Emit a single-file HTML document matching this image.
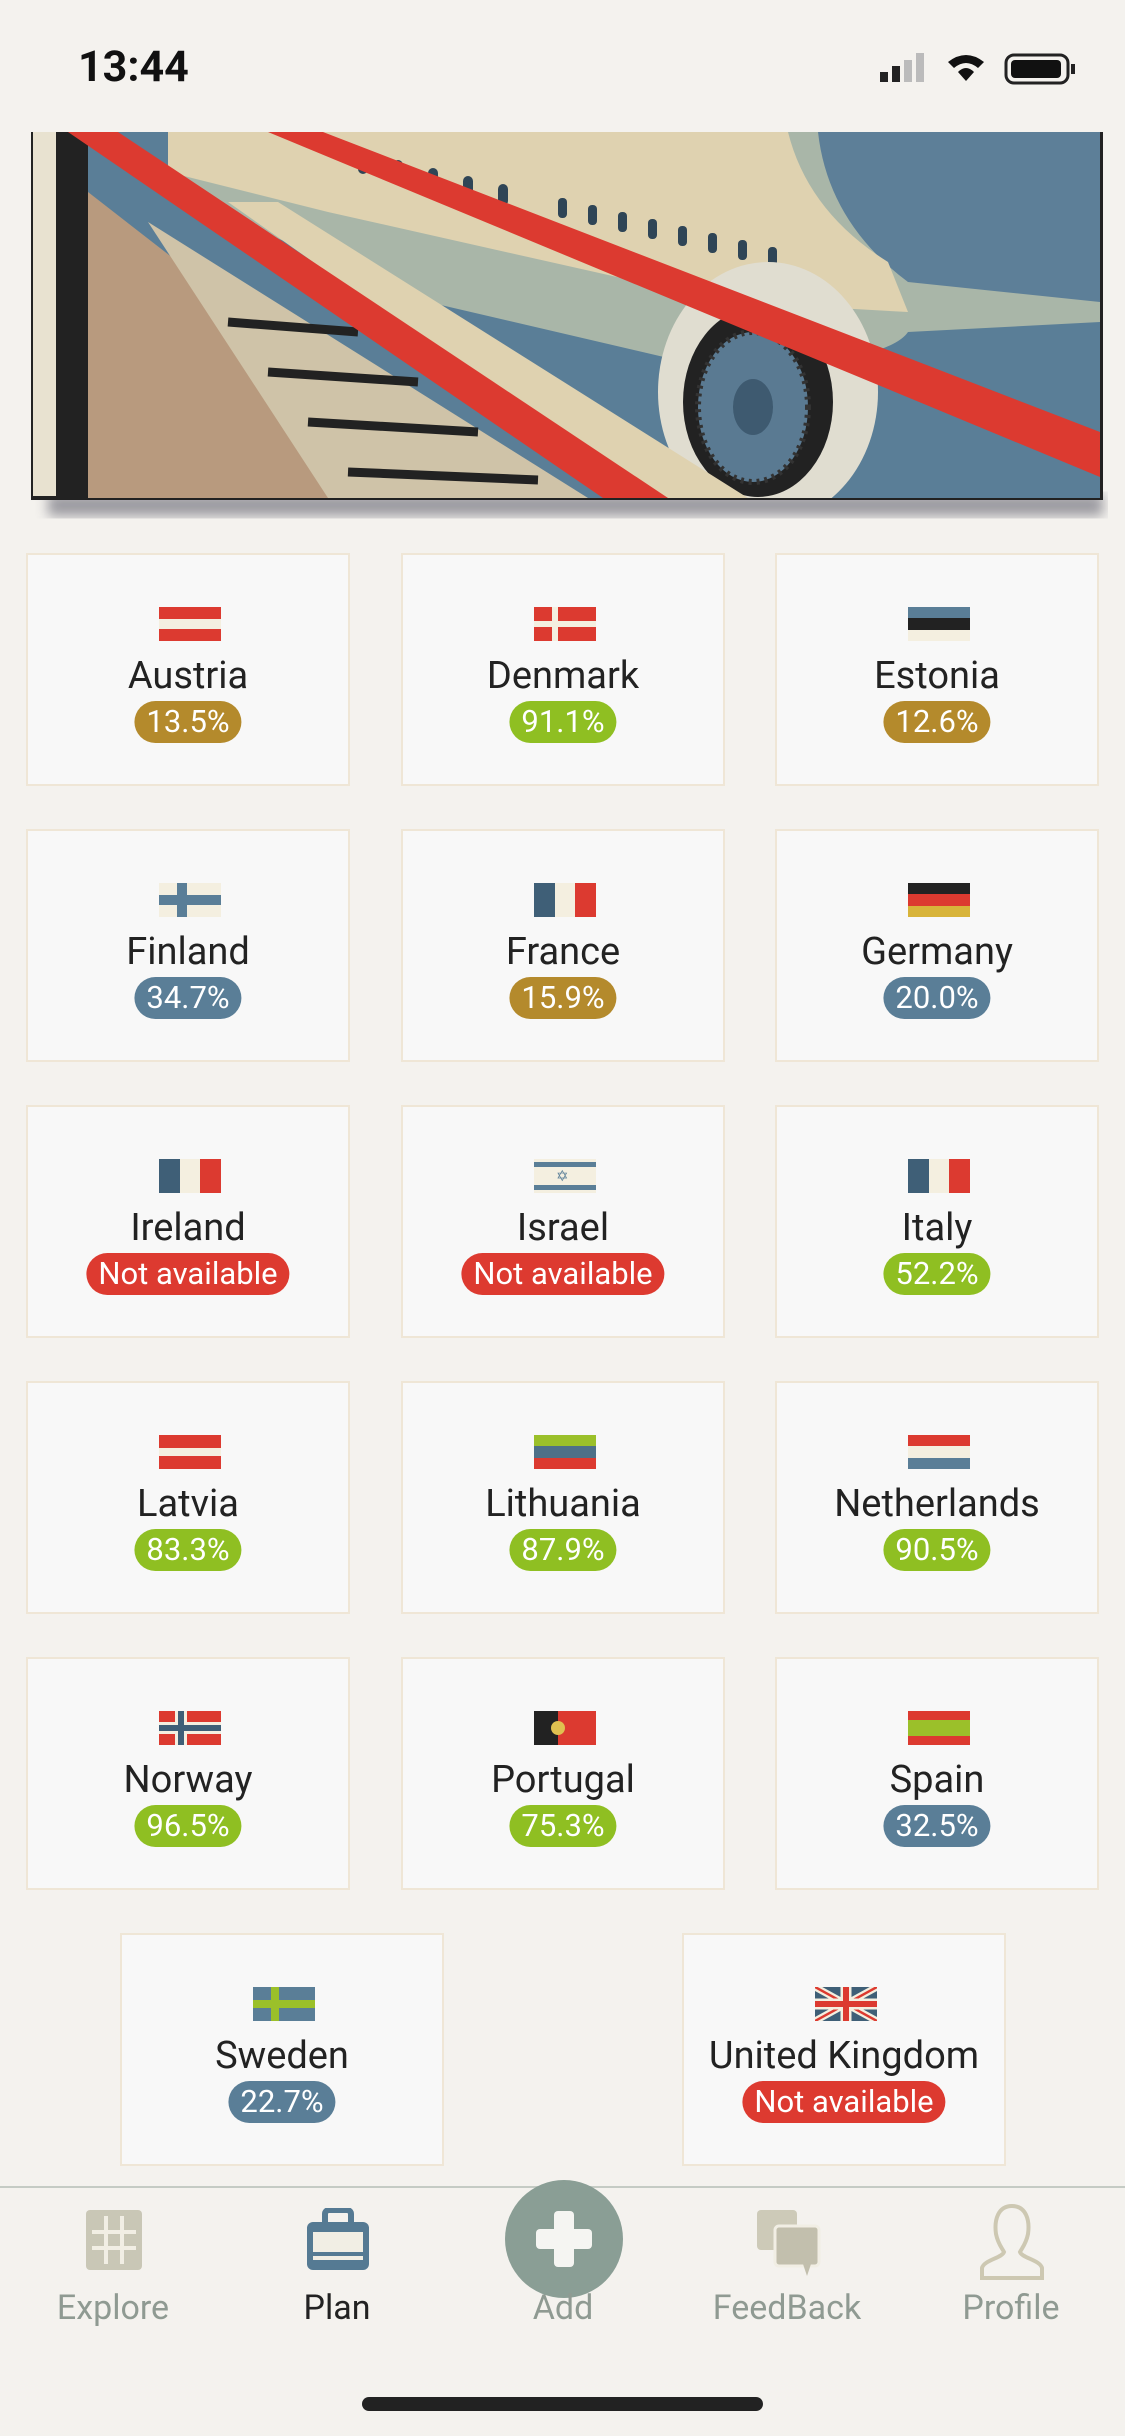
<!DOCTYPE html>
<html><head><meta charset="utf-8">
<style>
*{margin:0;padding:0;box-sizing:border-box}
body{width:1125px;height:2436px;background:#f4f2ee;font-family:"Roboto","Liberation Sans",sans-serif;position:relative;overflow:hidden}
.abs{position:absolute}
.card{position:absolute;width:324px;height:233px;background:#f8f8f8;border:2px solid #efe6d6}
.flag{position:absolute;left:131px;top:52px;width:62px;height:34px;overflow:hidden}
.name{position:absolute;left:0;right:0;top:99px;text-align:center;font-size:38px;color:#222;line-height:44px}
.badge{position:absolute;left:50%;transform:translateX(-50%);top:146px;height:42px;line-height:42px;border-radius:21px;color:#fff;font-size:31px;padding:0 12px;white-space:nowrap}
.g{background:#8fbf22}.b{background:#5a7e97}.o{background:#b48a2c}.r{background:#dd3a30}
.tab{position:absolute;top:2288px;width:220px;margin-left:-110px;text-align:center;font-size:34px;color:#8f9a92}
</style></head><body>
<div class="abs" style="left:78px;top:42px;font-size:43px;font-weight:bold;color:#111">13:44</div>
<svg class="abs" style="left:878px;top:50px" width="210" height="40">
<rect x="2" y="22" width="8" height="10" fill="#222"/><rect x="14" y="16" width="8" height="16" fill="#222"/><rect x="26" y="10" width="8" height="22" fill="#bbb"/><rect x="38" y="3" width="8" height="29" fill="#bbb"/>
<path d="M70 12 Q88 -2 106 12 L100 18 Q88 8 76 18Z M80 22 Q88 14 96 22 L88 31Z" fill="#111"/>
<rect x="128" y="5" width="62" height="28" rx="8" fill="none" stroke="#222" stroke-width="3"/><rect x="133" y="10" width="50" height="18" rx="4" fill="#111"/><rect x="193" y="14" width="4" height="10" fill="#222"/>
</svg>
<svg class="abs" style="left:28px;top:132px" width="1080" height="395">
<defs><clipPath id="c"><rect x="28" y="0" width="1044" height="366"/></clipPath><filter id="sh"><feGaussianBlur stdDeviation="6"/></filter></defs>
<rect x="20" y="362" width="1055" height="22" fill="#445" opacity=".5" filter="url(#sh)"/>
<rect x="3" y="0" width="1072" height="368" fill="#222"/>
<rect x="5" y="0" width="1065" height="364" fill="#e8e2d0"/>
<g clip-path="url(#c)">
<rect x="28" y="0" width="1044" height="366" fill="#5a7e97"/>
<path d="M780 0 L1072 0 L1072 170 L860 200 Q800 120 780 0Z" fill="#5d7f98"/>
<path d="M140 0 L790 0 Q800 90 880 150 L1072 170 L1072 190 L880 200 Q860 230 700 240 L400 170 L140 60Z" fill="#a9b6a8"/>
<path d="M140 0 L760 0 Q780 80 860 130 L880 180 L700 170 L300 80 L140 40Z" fill="#dfd2b0"/>
<g fill="#2f4556">
<rect x="330" y="20" width="10" height="22" rx="5"/><rect x="365" y="28" width="10" height="22" rx="5"/><rect x="400" y="36" width="10" height="22" rx="5"/><rect x="435" y="44" width="10" height="22" rx="5"/><rect x="470" y="52" width="10" height="22" rx="5"/><rect x="530" y="66" width="9" height="20" rx="4"/><rect x="560" y="73" width="9" height="20" rx="4"/><rect x="590" y="80" width="9" height="20" rx="4"/><rect x="620" y="87" width="9" height="20" rx="4"/><rect x="650" y="94" width="9" height="20" rx="4"/><rect x="680" y="101" width="9" height="20" rx="4"/><rect x="710" y="108" width="9" height="20" rx="4"/><rect x="740" y="115" width="9" height="20" rx="4"/></g>
<ellipse cx="740" cy="260" rx="110" ry="130" fill="#e0ddd0"/>
<ellipse cx="730" cy="270" rx="75" ry="95" fill="#222"/>
<ellipse cx="725" cy="275" rx="55" ry="75" fill="#5a7a92" stroke="#333" stroke-width="6" stroke-dasharray="3 5"/>
<ellipse cx="725" cy="275" rx="20" ry="28" fill="#3e5a70"/>
<path d="M28 0 L60 0 L60 366 L28 366Z" fill="#222"/>
<path d="M60 60 L150 130 L340 366 L60 366Z" fill="#b89a7e"/>
<path d="M120 90 L560 366 L300 366 Z" fill="#cfc3a8"/>
<g stroke="#222" stroke-width="9"><path d="M200 190 L330 200"/><path d="M240 240 L390 250"/><path d="M280 290 L450 300"/><path d="M320 340 L510 348"/></g>
<path d="M200 70 L250 70 L720 366 L620 366 Z" fill="#dfd2b0"/>
<path d="M40 0 L90 0 L640 366 L575 366 Z" fill="#dc3a30"/>
<path d="M240 0 L295 0 L1072 300 L1072 345 Z" fill="#dc3a30"/>
</g>
</svg>
<div id="grid"></div>
<div class="abs" style="left:0;top:2186px;width:1125px;height:2px;background:#c5cbc4"></div>
<svg class="abs" style="left:84px;top:2208px" width="60" height="64"><rect x="2" y="2" width="56" height="60" rx="4" fill="#c9c7b6"/><path d="M22 8 V56 M38 8 V56 M8 24 H52 M8 40 H52" stroke="#f1eee4" stroke-width="4"/></svg>
<svg class="abs" style="left:305px;top:2208px" width="66" height="64"><rect x="20" y="2" width="26" height="16" rx="4" fill="none" stroke="#557a93" stroke-width="6"/><rect x="2" y="14" width="62" height="48" rx="6" fill="#557a93"/><rect x="8" y="24" width="50" height="20" fill="#f1eee4"/><rect x="8" y="48" width="50" height="4" fill="#f1eee4"/></svg>
<svg class="abs" style="left:504px;top:2179px" width="120" height="120"><circle cx="60" cy="60" r="59" fill="#8a9e95"/><rect x="50" y="32" width="20" height="56" rx="4" fill="#f5f5f2"/><rect x="32" y="50" width="56" height="20" rx="4" fill="#f5f5f2"/></svg>
<svg class="abs" style="left:755px;top:2208px" width="70" height="70"><rect x="2" y="2" width="40" height="40" rx="4" fill="#cdcab8"/><rect x="20" y="18" width="44" height="40" rx="4" fill="#c2bfad" stroke="#f1eee4" stroke-width="3"/><path d="M48 56 L52 68 L56 56Z" fill="#c2bfad"/></svg>
<svg class="abs" style="left:972px;top:2202px" width="80" height="80"><path d="M40 4 C26 4 22 18 24 32 C26 42 30 46 32 50 C30 56 12 58 10 66 L10 76 L70 76 L70 66 C68 58 50 56 48 50 C50 46 54 42 56 32 C58 18 54 4 40 4Z" fill="none" stroke="#cdc8b2" stroke-width="4"/></svg>
<div class="tab" style="left:113px">Explore</div>
<div class="tab" style="left:337px;color:#222">Plan</div>
<div class="tab" style="left:563px">Add</div>
<div class="tab" style="left:787px">FeedBack</div>
<div class="tab" style="left:1011px">Profile</div>
<div class="abs" style="left:362px;top:2397px;width:401px;height:14px;border-radius:7px;background:#222"></div>
<script>
const countries=["Austria","Denmark","Estonia","Finland","France","Germany","Ireland","Israel","Italy","Latvia","Lithuania","Netherlands","Norway","Portugal","Spain","Sweden","United Kingdom"];
const values=["13.5%","91.1%","12.6%","34.7%","15.9%","20.0%","Not available","Not available","52.2%","83.3%","87.9%","90.5%","96.5%","75.3%","32.5%","22.7%","Not available"];
const badgeTypes=["o","g","o","b","o","b","r","r","g","g","g","g","g","g","b","b","r"];
const flags={
Austria:'<div style="height:12px;background:#dc3a30"></div><div style="height:10px;background:#f4efe0"></div><div style="height:12px;background:#dc3a30"></div>',
Denmark:'<div style="position:absolute;inset:0;background:#dc3a30"></div><div style="position:absolute;left:18px;top:0;width:6px;height:34px;background:#f4efe0"></div><div style="position:absolute;left:0;top:14px;width:62px;height:6px;background:#f4efe0"></div>',
Estonia:'<div style="height:11px;background:#5a7e97"></div><div style="height:12px;background:#222"></div><div style="height:11px;background:#f4efe0"></div>',
Finland:'<div style="position:absolute;inset:0;background:#f4efe0"></div><div style="position:absolute;left:18px;top:0;width:10px;height:34px;background:#5a7e97"></div><div style="position:absolute;left:0;top:12px;width:62px;height:10px;background:#5a7e97"></div>',
France:'<div style="display:flex;height:34px"><div style="flex:1;background:#3f5f77"></div><div style="flex:1;background:#f4efe0"></div><div style="flex:1;background:#dc3a30"></div></div>',
Germany:'<div style="height:11px;background:#222"></div><div style="height:12px;background:#dc3a30"></div><div style="height:11px;background:#d8b43a"></div>',
Israel:'<div style="position:absolute;inset:0;background:#f4efe0"></div><div style="position:absolute;left:0;top:3px;width:62px;height:5px;background:#5a7e97"></div><div style="position:absolute;left:0;top:26px;width:62px;height:5px;background:#5a7e97"></div><div style="position:absolute;left:22px;top:10px;font-size:15px;color:#5a7e97;line-height:15px">✡</div>',
Latvia:'<div style="height:13px;background:#dc3a30"></div><div style="height:8px;background:#f4efe0"></div><div style="height:13px;background:#dc3a30"></div>',
Lithuania:'<div style="height:11px;background:#9bc02a"></div><div style="height:12px;background:#4e7088"></div><div style="height:11px;background:#dc3a30"></div>',
Netherlands:'<div style="height:11px;background:#dc3a30"></div><div style="height:12px;background:#f4efe0"></div><div style="height:11px;background:#5a7e97"></div>',
Norway:'<div style="position:absolute;inset:0;background:#dc3a30"></div><div style="position:absolute;left:16px;top:0;width:12px;height:34px;background:#f4efe0"></div><div style="position:absolute;left:0;top:11px;width:62px;height:12px;background:#f4efe0"></div><div style="position:absolute;left:19px;top:0;width:6px;height:34px;background:#3f5f77"></div><div style="position:absolute;left:0;top:14px;width:62px;height:6px;background:#3f5f77"></div>',
Portugal:'<div style="position:absolute;inset:0;background:#dc3a30"></div><div style="position:absolute;left:0;top:0;width:24px;height:34px;background:#222"></div><div style="position:absolute;left:17px;top:10px;width:14px;height:14px;border-radius:7px;background:#e0c050"></div>',
Spain:'<div style="height:9px;background:#dc3a30"></div><div style="height:16px;background:#9bc02a"></div><div style="height:9px;background:#dc3a30"></div>',
Sweden:'<div style="position:absolute;inset:0;background:#5a7e97"></div><div style="position:absolute;left:18px;top:0;width:8px;height:34px;background:#9bc02a"></div><div style="position:absolute;left:0;top:13px;width:62px;height:8px;background:#9bc02a"></div>',
"United Kingdom":'<svg width="62" height="34"><rect width="62" height="34" fill="#3f5f77"/><path d="M0 0L62 34M62 0L0 34" stroke="#f4efe0" stroke-width="7"/><path d="M0 0L62 34M62 0L0 34" stroke="#dc3a30" stroke-width="2.5"/><path d="M31 0V34M0 17H62" stroke="#f4efe0" stroke-width="11"/><path d="M31 0V34M0 17H62" stroke="#dc3a30" stroke-width="6"/></svg>'
};
flags.Ireland=flags.France;flags.Italy=flags.France;
const cols=[26,401,775],rowTop=553,rowStep=276;
const grid=document.getElementById('grid');
countries.forEach((c,i)=>{
  const card=document.createElement('div');
  card.className='card';
  
  
  let x,y;
  if(i<15){x=cols[i%3];y=rowTop+Math.floor(i/3)*rowStep;}
  else{x=i===15?120:682;y=rowTop+5*rowStep;}
  card.style.left=x+'px';card.style.top=y+'px';
  const f=document.createElement('div');f.className='flag';f.innerHTML=flags[c];
  
  
  const n=document.createElement('div');n.className='name';n.textContent=c;
  
  
  const b=document.createElement('div');b.className='badge '+badgeTypes[i];b.textContent=values[i];
  
  
  card.appendChild(f);card.appendChild(n);card.appendChild(b);
  grid.appendChild(card);
});
</script>
</body></html>
